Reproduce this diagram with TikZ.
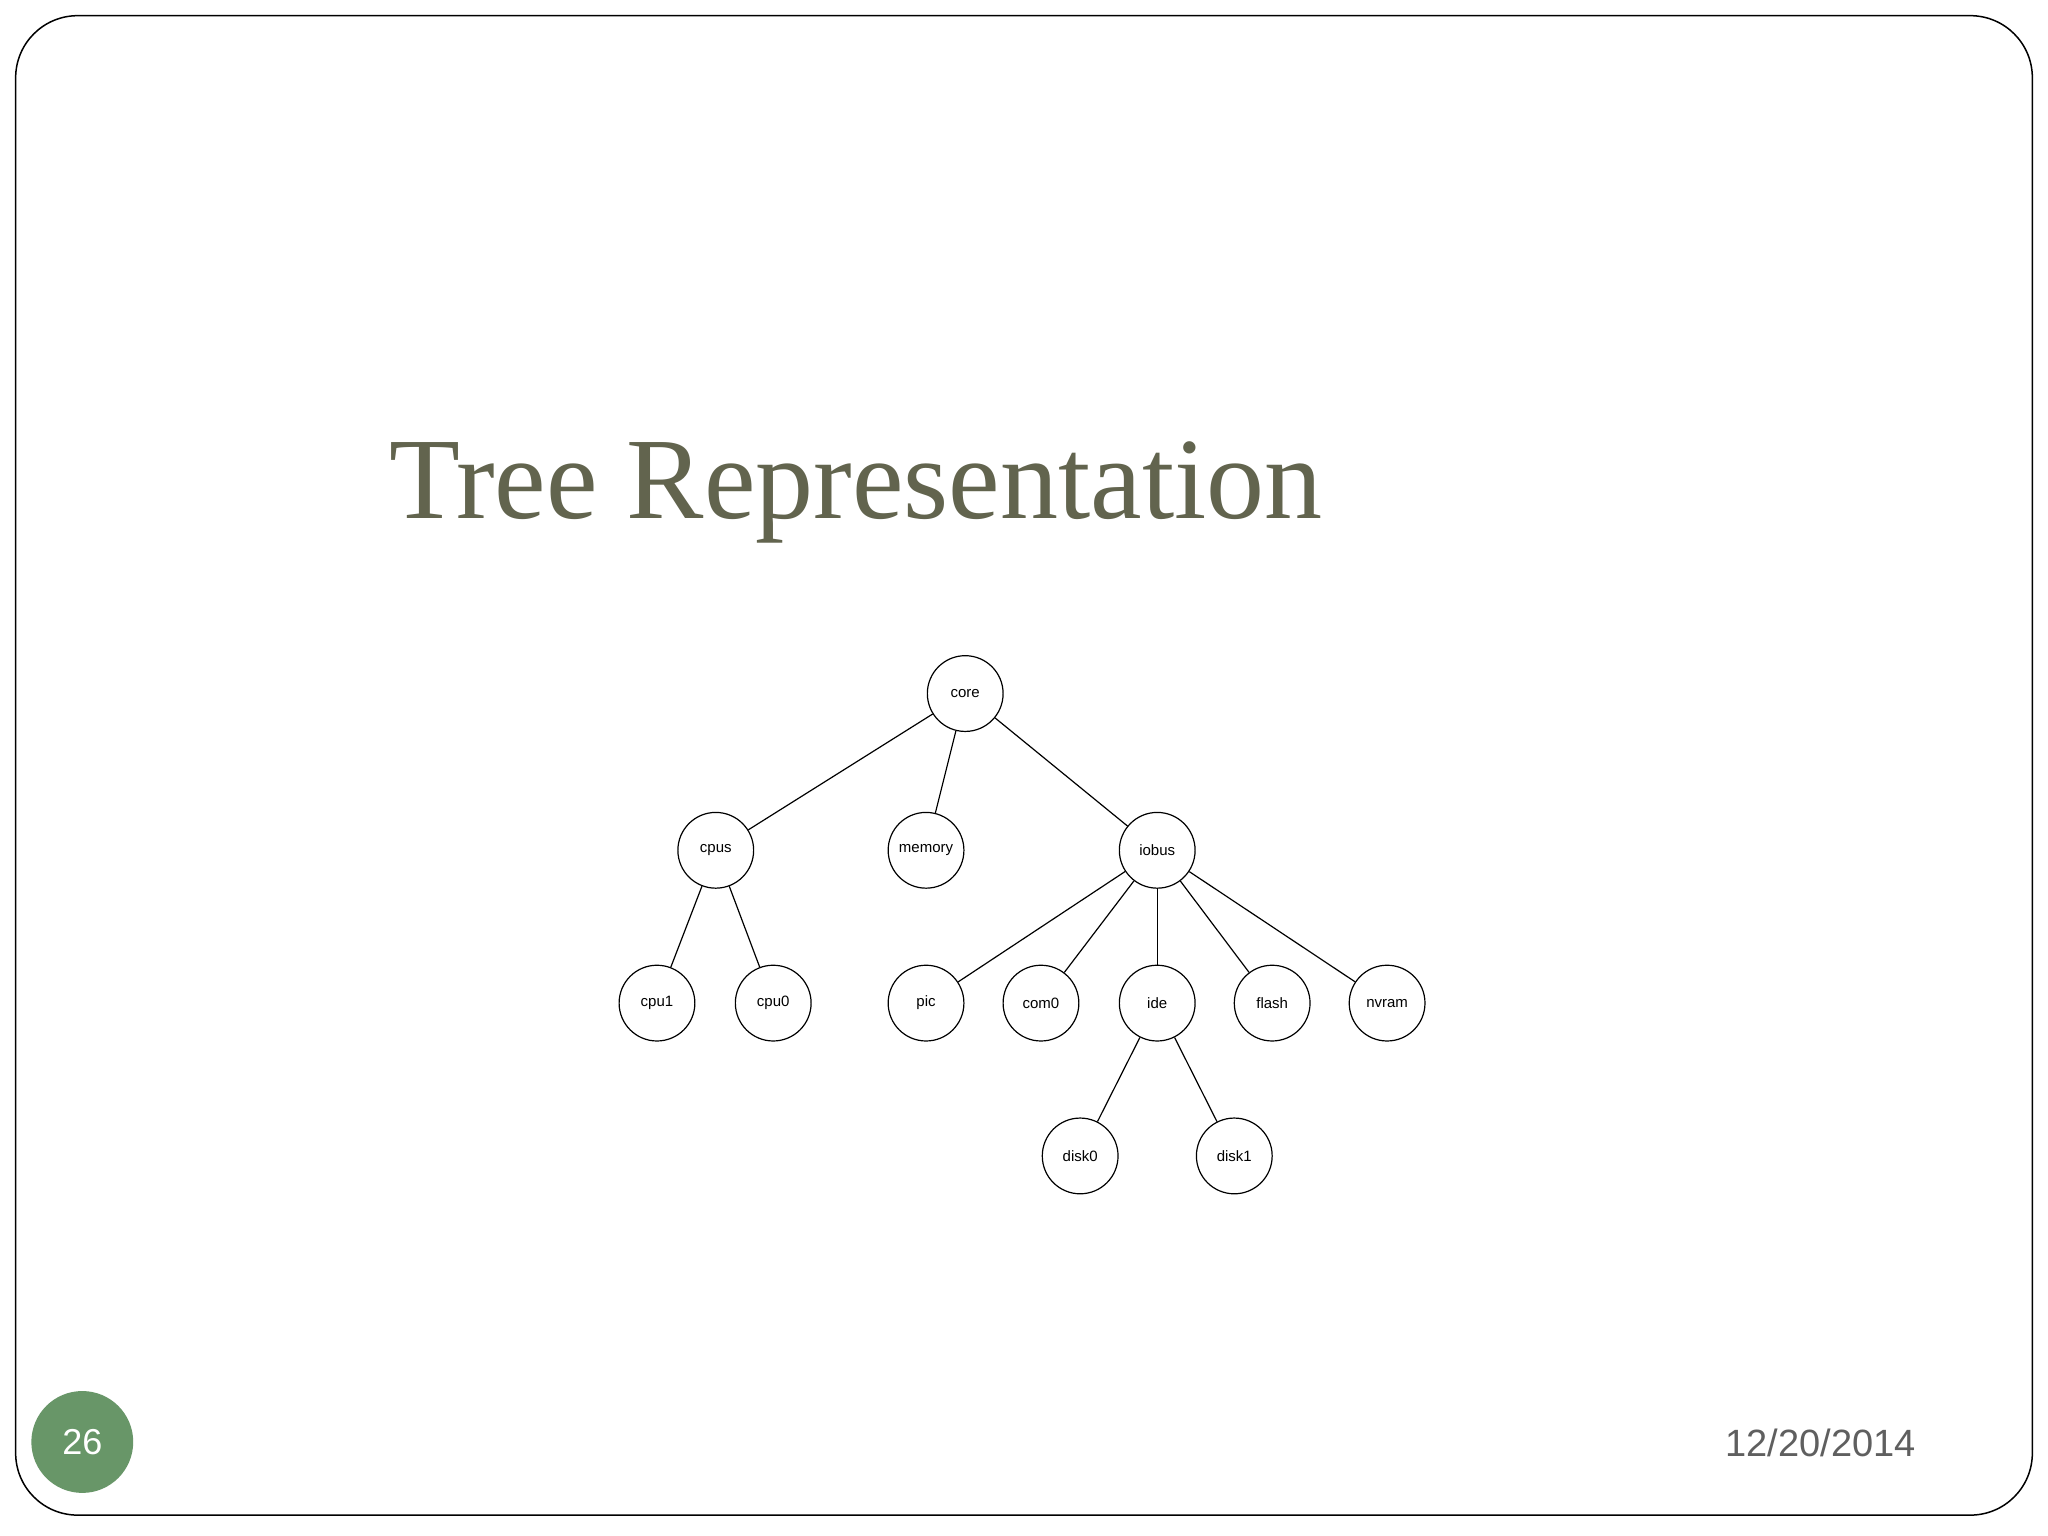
\documentclass[tikz,border=0pt]{standalone}
\usepackage{fontspec}
\setmainfont{Liberation Serif}
\newfontfamily\sansf{Liberation Sans}
\definecolor{titlec}{RGB}{98,100,78}
\definecolor{numc}{RGB}{104,150,104}
\definecolor{datec}{RGB}{95,95,95}
\begin{document}
\begin{tikzpicture}[x=1.306pt,y=-1.306pt,
  tn/.style={draw,circle,minimum size=58*1.306pt,inner sep=0pt,line width=1.2pt,font=\sansf\fontsize{15}{15}\selectfont},
  ed/.style={line width=1.2pt}]
\useasboundingbox (0,0) rectangle (1568,1176);
\fill[white] (0,0) rectangle (1568,1176);
\draw[line width=1.5pt,rounded corners=62pt] (12,12) rectangle (1556,1160);
\node[anchor=base west,text=titlec,font=\fontsize{116}{116}\selectfont,inner sep=0pt] (title) at (298,397) {Tree Representation};
\node[circle,fill=numc,minimum size=78*1.306pt,inner sep=0pt,text=white,font=\sansf\fontsize{36}{36}\selectfont] (num) at (63,1104) {26};
\node[anchor=base east,text=datec,font=\sansf\fontsize{38}{38}\selectfont,inner sep=0pt] (date) at (1467,1115) {12/20/2014};
\node[tn] (core) at (739,531) {core};
\node[tn] (cpus) at (548,651) {cpus};
\node[tn] (memory) at (709,651) {memory};
\node[tn] (iobus) at (886,651) {iobus};
\node[tn] (cpu1) at (503,768) {cpu1};
\node[tn] (cpu0) at (592,768) {cpu0};
\node[tn] (pic) at (709,768) {pic};
\node[tn] (com0) at (797,768) {com0};
\node[tn] (ide) at (886,768) {ide};
\node[tn] (flash) at (974,768) {flash};
\node[tn] (nvram) at (1062,768) {nvram};
\node[tn] (disk0) at (827,885) {disk0};
\node[tn] (disk1) at (945,885) {disk1};
\foreach \a/\b in {core/cpus,core/memory,core/iobus,cpus/cpu1,cpus/cpu0,iobus/pic,iobus/com0,iobus/ide,iobus/flash,iobus/nvram,ide/disk0,ide/disk1}
  \draw[ed] (\a) -- (\b);
\end{tikzpicture}
\end{document}
